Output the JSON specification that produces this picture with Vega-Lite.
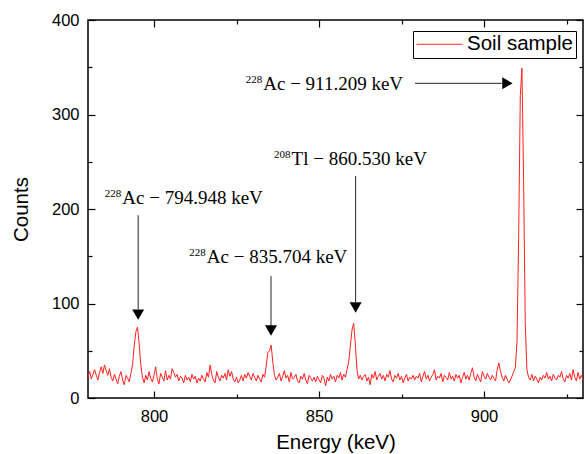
{
  "$schema": "https://vega.github.io/schema/vega-lite/v6.json",
  "width": 495,
  "height": 378,
  "autosize": {"type": "none"},
  "padding": {"left": 88, "top": 20, "right": 2, "bottom": 56},
  "background": "white",
  "config": {
    "view": {"stroke": "black", "strokeWidth": 1.5},
    "axis": {
      "labelFont": "Liberation Sans",
      "labelFontSize": 16.5,
      "labelColor": "black",
      "titleFont": "Liberation Sans",
      "titleFontSize": 20.5,
      "titleFontWeight": "normal",
      "titleColor": "black",
      "tickColor": "black",
      "tickWidth": 1.2,
      "domain": false,
      "grid": false
    }
  },
  "datasets": {
    "spectrum": [
      {"e":780,"c":22},{"e":780.5,"c":28},{"e":781,"c":20},{"e":781.5,"c":25},{"e":782,"c":30},{"e":782.5,"c":24},{"e":783,"c":19},{"e":783.5,"c":27},{"e":784,"c":33},{"e":784.5,"c":26},
      {"e":785,"c":35},{"e":785.5,"c":29},{"e":786,"c":24},{"e":786.5,"c":31},{"e":787,"c":22},{"e":787.5,"c":18},{"e":788,"c":25},{"e":788.5,"c":20},{"e":789,"c":15},{"e":789.5,"c":23},
      {"e":790,"c":28},{"e":790.5,"c":19},{"e":791,"c":14},{"e":791.5,"c":24},{"e":792,"c":21},{"e":792.5,"c":17},{"e":793,"c":26},{"e":793.5,"c":35},{"e":794,"c":55},{"e":794.5,"c":70},
      {"e":795,"c":75},{"e":795.5,"c":58},{"e":796,"c":35},{"e":796.5,"c":22},{"e":797,"c":16},{"e":797.5,"c":24},{"e":798,"c":19},{"e":798.5,"c":28},{"e":799,"c":21},{"e":799.5,"c":17},
      {"e":800,"c":24},{"e":800.5,"c":33},{"e":801,"c":20},{"e":801.5,"c":15},{"e":802,"c":26},{"e":802.5,"c":22},{"e":803,"c":18},{"e":803.5,"c":29},{"e":804,"c":19},{"e":804.5,"c":24},
      {"e":805,"c":20},{"e":805.5,"c":31},{"e":806,"c":27},{"e":806.5,"c":22},{"e":807,"c":25},{"e":807.5,"c":18},{"e":808,"c":23},{"e":808.5,"c":21},{"e":809,"c":16},{"e":809.5,"c":24},
      {"e":810,"c":19},{"e":810.5,"c":22},{"e":811,"c":17},{"e":811.5,"c":25},{"e":812,"c":20},{"e":812.5,"c":23},{"e":813,"c":16},{"e":813.5,"c":21},{"e":814,"c":18},{"e":814.5,"c":24},
      {"e":815,"c":20},{"e":815.5,"c":17},{"e":816,"c":27},{"e":816.5,"c":22},{"e":817,"c":35},{"e":817.5,"c":25},{"e":818,"c":19},{"e":818.5,"c":16},{"e":819,"c":28},{"e":819.5,"c":22},
      {"e":820,"c":18},{"e":820.5,"c":24},{"e":821,"c":21},{"e":821.5,"c":26},{"e":822,"c":19},{"e":822.5,"c":30},{"e":823,"c":23},{"e":823.5,"c":28},{"e":824,"c":20},{"e":824.5,"c":17},
      {"e":825,"c":22},{"e":825.5,"c":16},{"e":826,"c":19},{"e":826.5,"c":24},{"e":827,"c":18},{"e":827.5,"c":25},{"e":828,"c":21},{"e":828.5,"c":27},{"e":829,"c":23},{"e":829.5,"c":19},
      {"e":830,"c":26},{"e":830.5,"c":22},{"e":831,"c":18},{"e":831.5,"c":24},{"e":832,"c":20},{"e":832.5,"c":17},{"e":833,"c":25},{"e":833.5,"c":22},{"e":834,"c":34},{"e":834.5,"c":48},
      {"e":835,"c":50},{"e":835.5,"c":56},{"e":836,"c":38},{"e":836.5,"c":24},{"e":837,"c":19},{"e":837.5,"c":22},{"e":838,"c":26},{"e":838.5,"c":18},{"e":839,"c":23},{"e":839.5,"c":29},
      {"e":840,"c":21},{"e":840.5,"c":24},{"e":841,"c":17},{"e":841.5,"c":27},{"e":842,"c":20},{"e":842.5,"c":22},{"e":843,"c":25},{"e":843.5,"c":18},{"e":844,"c":16},{"e":844.5,"c":23},
      {"e":845,"c":20},{"e":845.5,"c":26},{"e":846,"c":19},{"e":846.5,"c":15},{"e":847,"c":24},{"e":847.5,"c":21},{"e":848,"c":18},{"e":848.5,"c":22},{"e":849,"c":17},{"e":849.5,"c":23},
      {"e":850,"c":19},{"e":850.5,"c":16},{"e":851,"c":24},{"e":851.5,"c":21},{"e":852,"c":13},{"e":852.5,"c":22},{"e":853,"c":18},{"e":853.5,"c":25},{"e":854,"c":20},{"e":854.5,"c":23},
      {"e":855,"c":17},{"e":855.5,"c":24},{"e":856,"c":21},{"e":856.5,"c":27},{"e":857,"c":19},{"e":857.5,"c":25},{"e":858,"c":22},{"e":858.5,"c":30},{"e":859,"c":38},{"e":859.5,"c":55},
      {"e":860,"c":72},{"e":860.5,"c":79},{"e":861,"c":58},{"e":861.5,"c":30},{"e":862,"c":20},{"e":862.5,"c":24},{"e":863,"c":19},{"e":863.5,"c":23},{"e":864,"c":25},{"e":864.5,"c":18},
      {"e":865,"c":22},{"e":865.5,"c":14},{"e":866,"c":25},{"e":866.5,"c":21},{"e":867,"c":28},{"e":867.5,"c":19},{"e":868,"c":23},{"e":868.5,"c":26},{"e":869,"c":20},{"e":869.5,"c":24},
      {"e":870,"c":18},{"e":870.5,"c":25},{"e":871,"c":22},{"e":871.5,"c":29},{"e":872,"c":20},{"e":872.5,"c":17},{"e":873,"c":24},{"e":873.5,"c":21},{"e":874,"c":26},{"e":874.5,"c":19},
      {"e":875,"c":23},{"e":875.5,"c":16},{"e":876,"c":21},{"e":876.5,"c":25},{"e":877,"c":18},{"e":877.5,"c":22},{"e":878,"c":20},{"e":878.5,"c":24},{"e":879,"c":19},{"e":879.5,"c":23},
      {"e":880,"c":21},{"e":880.5,"c":26},{"e":881,"c":17},{"e":881.5,"c":23},{"e":882,"c":28},{"e":882.5,"c":20},{"e":883,"c":24},{"e":883.5,"c":18},{"e":884,"c":22},{"e":884.5,"c":25},
      {"e":885,"c":30},{"e":885.5,"c":19},{"e":886,"c":23},{"e":886.5,"c":21},{"e":887,"c":26},{"e":887.5,"c":17},{"e":888,"c":24},{"e":888.5,"c":22},{"e":889,"c":19},{"e":889.5,"c":27},
      {"e":890,"c":20},{"e":890.5,"c":23},{"e":891,"c":18},{"e":891.5,"c":25},{"e":892,"c":21},{"e":892.5,"c":24},{"e":893,"c":16},{"e":893.5,"c":22},{"e":894,"c":27},{"e":894.5,"c":20},
      {"e":895,"c":24},{"e":895.5,"c":19},{"e":896,"c":26},{"e":896.5,"c":32},{"e":897,"c":22},{"e":897.5,"c":18},{"e":898,"c":25},{"e":898.5,"c":21},{"e":899,"c":17},{"e":899.5,"c":28},
      {"e":900,"c":23},{"e":900.5,"c":20},{"e":901,"c":26},{"e":901.5,"c":22},{"e":902,"c":19},{"e":902.5,"c":24},{"e":903,"c":21},{"e":903.5,"c":18},{"e":904,"c":30},{"e":904.5,"c":37},
      {"e":905,"c":28},{"e":905.5,"c":22},{"e":906,"c":18},{"e":906.5,"c":24},{"e":907,"c":20},{"e":907.5,"c":16},{"e":908,"c":19},{"e":908.5,"c":23},{"e":909,"c":28},{"e":909.5,"c":32},
      {"e":910,"c":60},{"e":910.5,"c":170},{"e":911,"c":320},{"e":911.5,"c":349},{"e":912,"c":230},{"e":912.5,"c":80},{"e":913,"c":30},{"e":913.5,"c":22},{"e":914,"c":19},{"e":914.5,"c":25},
      {"e":915,"c":18},{"e":915.5,"c":23},{"e":916,"c":20},{"e":916.5,"c":16},{"e":917,"c":22},{"e":917.5,"c":19},{"e":918,"c":24},{"e":918.5,"c":21},{"e":919,"c":27},{"e":919.5,"c":20},
      {"e":920,"c":23},{"e":920.5,"c":18},{"e":921,"c":25},{"e":921.5,"c":21},{"e":922,"c":19},{"e":922.5,"c":24},{"e":923,"c":22},{"e":923.5,"c":28},{"e":924,"c":20},{"e":924.5,"c":17},
      {"e":925,"c":24},{"e":925.5,"c":21},{"e":926,"c":26},{"e":926.5,"c":19},{"e":927,"c":30},{"e":927.5,"c":22},{"e":928,"c":18},{"e":928.5,"c":27},{"e":929,"c":20},{"e":929.5,"c":24},
      {"e":930,"c":19}
    ],
    "labels": [
      {"x":790.4,"y":205.7,"sup":"228","t":"Ac − 794.948 keV"},
      {"x":816.0,"y":143.0,"sup":"228","t":"Ac − 835.704 keV"},
      {"x":841.7,"y":247.0,"sup":"208","t":"Tl − 860.530 keV"},
      {"x":833.1,"y":326.3,"sup":"228","t":"Ac − 911.209 keV"}
    ],
    "varrows": [
      {"x":795.2,"y1":193.4,"y2":94},
      {"x":835.45,"y1":129,"y2":75},
      {"x":861.1,"y1":235,"y2":101.5}
    ],
    "harrows": [
      {"x1":879.1,"x2":905.4,"y":333}
    ],
    "downheads": [
      {"x":795.2,"y":88.2},
      {"x":835.45,"y":71.4},
      {"x":861.1,"y":95.7}
    ],
    "rightheads": [
      {"x":907.1,"y":333}
    ]
  },
  "resolve": {"axis": {"x": "independent", "y": "independent"}},
  "layer": [
    {
      "data": {"name": "spectrum"},
      "mark": {"type": "line", "strokeWidth": 1, "interpolate": "linear"},
      "encoding": {
        "x": {"field": "e", "type": "quantitative",
          "scale": {"domain": [780, 930], "nice": false, "zero": false},
          "axis": {"orient": "bottom", "values": [800, 850, 900], "title": "Energy (keV)", "offset": -7, "tickSize": 7, "labelPadding": 10, "titlePadding": 8}},
        "y": {"field": "c", "type": "quantitative",
          "scale": {"domain": [0, 400], "nice": false},
          "axis": {"orient": "left", "values": [0, 100, 200, 300, 400], "title": "Counts", "offset": -7, "tickSize": 7, "labelPadding": 9, "titlePadding": 20}},
        "color": {"datum": "Soil sample", "type": "nominal",
          "scale": {"range": ["#ff2020"]},
          "legend": {"orient": "none", "legendX": 325, "legendY": 11, "title": null,
            "symbolType": "M-1.7,0H6.3", "symbolSize": 132, "symbolStrokeWidth": 1.2,
            "symbolStrokeColor": "#ff6060", "symbolFillColor": "transparent",
            "labelFont": "Liberation Sans", "labelFontSize": 20.5, "labelColor": "black",
            "labelOffset": 30.5, "strokeColor": "black", "padding": 3}}
      }
    },
    {
      "data": {"name": "downheads"},
      "mark": {"type": "point", "opacity": 0},
      "encoding": {
        "x": {"field": "x", "type": "quantitative", "axis": {"orient": "bottom", "values": [825, 875, 925], "labels": false, "title": null, "offset": -4, "tickSize": 4}},
        "y": {"field": "y", "type": "quantitative", "axis": {"orient": "left", "values": [50, 150, 250, 350], "labels": false, "title": null, "offset": -4, "tickSize": 4}}
      }
    },
    {
      "data": {"name": "downheads"},
      "mark": {"type": "point", "opacity": 0},
      "encoding": {
        "x": {"field": "x", "type": "quantitative", "axis": {"orient": "top", "values": [800, 850, 900], "labels": false, "title": null, "offset": -7, "tickSize": 7}},
        "y": {"field": "y", "type": "quantitative", "axis": {"orient": "right", "values": [0, 100, 200, 300, 400], "labels": false, "title": null, "offset": -7, "tickSize": 7}}
      }
    },
    {
      "data": {"name": "downheads"},
      "mark": {"type": "point", "opacity": 0},
      "encoding": {
        "x": {"field": "x", "type": "quantitative", "axis": {"orient": "top", "values": [825, 875, 925], "labels": false, "title": null, "offset": -4, "tickSize": 4}},
        "y": {"field": "y", "type": "quantitative", "axis": {"orient": "right", "values": [50, 150, 250, 350], "labels": false, "title": null, "offset": -4, "tickSize": 4}}
      }
    },
    {
      "data": {"name": "varrows"},
      "mark": {"type": "rule", "color": "#222222", "strokeWidth": 1},
      "encoding": {
        "x": {"field": "x", "type": "quantitative", "axis": null},
        "y": {"field": "y1", "type": "quantitative", "axis": null},
        "y2": {"field": "y2"}
      }
    },
    {
      "data": {"name": "harrows"},
      "mark": {"type": "rule", "color": "#222222", "strokeWidth": 1},
      "encoding": {
        "x": {"field": "x1", "type": "quantitative", "axis": null},
        "x2": {"field": "x2"},
        "y": {"field": "y", "type": "quantitative", "axis": null}
      }
    },
    {
      "data": {"name": "downheads"},
      "mark": {"type": "point", "shape": "triangle-down", "filled": true, "color": "black", "size": 144, "opacity": 1},
      "encoding": {
        "x": {"field": "x", "type": "quantitative", "axis": null},
        "y": {"field": "y", "type": "quantitative", "axis": null}
      }
    },
    {
      "data": {"name": "rightheads"},
      "mark": {"type": "point", "shape": "triangle-right", "filled": true, "color": "black", "size": 144, "opacity": 1},
      "encoding": {
        "x": {"field": "x", "type": "quantitative", "axis": null},
        "y": {"field": "y", "type": "quantitative", "axis": null}
      }
    },
    {
      "data": {"name": "labels"},
      "mark": {"type": "text", "font": "Liberation Serif", "fontSize": 19, "align": "left", "baseline": "alphabetic", "color": "black"},
      "encoding": {
        "x": {"field": "x", "type": "quantitative", "axis": null},
        "y": {"field": "y", "type": "quantitative", "axis": null},
        "text": {"field": "t"}
      }
    },
    {
      "data": {"name": "labels"},
      "mark": {"type": "text", "font": "Liberation Serif", "fontSize": 11, "align": "right", "baseline": "alphabetic", "dx": -1, "dy": -6.5, "color": "black"},
      "encoding": {
        "x": {"field": "x", "type": "quantitative", "axis": null},
        "y": {"field": "y", "type": "quantitative", "axis": null},
        "text": {"field": "sup"}
      }
    }
  ]
}
